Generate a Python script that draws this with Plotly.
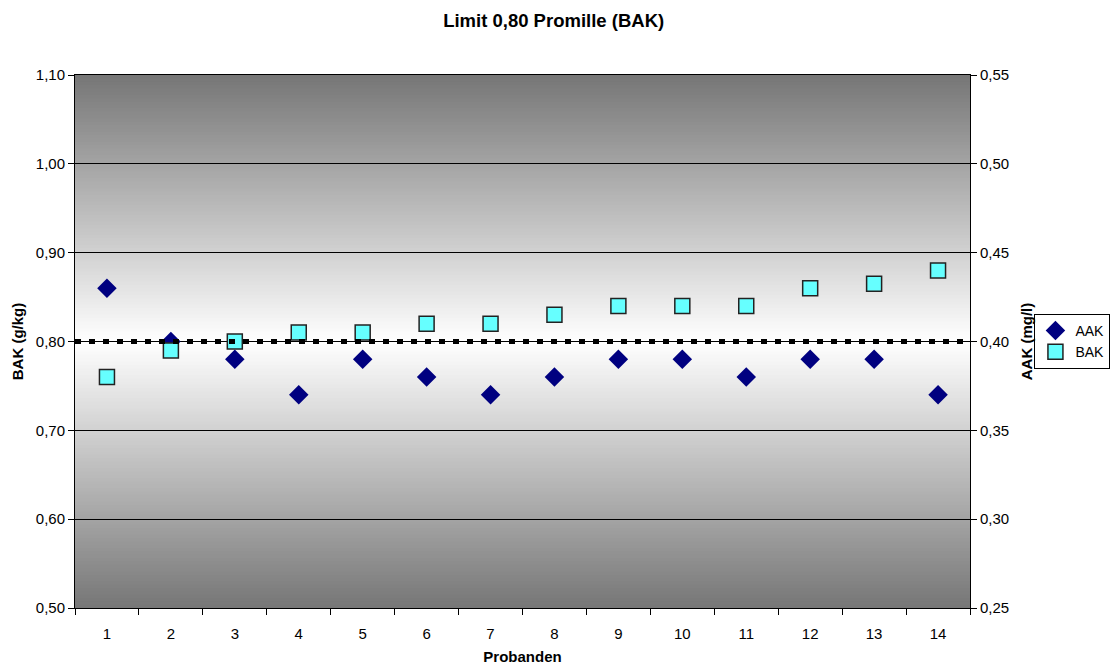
import plotly.graph_objects as go

# Probanden 1..14
probanden = list(range(1, 15))
# Atemalkohol (mg/l), right axis
aak = [0.43, 0.40, 0.39, 0.37, 0.39, 0.38, 0.37, 0.38, 0.39, 0.39, 0.38, 0.39, 0.39, 0.37]
# Blutalkohol (g/kg), left axis
bak = [0.76, 0.79, 0.80, 0.81, 0.81, 0.82, 0.82, 0.83, 0.84, 0.84, 0.84, 0.86, 0.865, 0.88]
# Grenzwert
limit = 0.80
limit_x = [0.5, 14.5]

FONT = "Liberation Sans, Arial, sans-serif"

fig = go.Figure()

fig.add_trace(go.Scatter(
    x=probanden, y=aak, name="AAK", mode="markers", yaxis="y",
    marker=dict(symbol="diamond", size=15, color="#000080",
                line=dict(width=0)),
))
fig.add_trace(go.Scatter(
    x=probanden, y=bak, name="BAK", mode="markers", yaxis="y2",
    marker=dict(symbol="square", size=15, color="#66FFFF",
                line=dict(width=1.5, color="#222222")),
))
fig.add_trace(go.Scatter(
    x=limit_x, y=[limit, limit], mode="lines", yaxis="y2",
    showlegend=False, hoverinfo="skip",
    line=dict(color="black", width=5, dash="6px,8px"),
))

# grey-white-grey vertical gradient behind the plot area
n_bands = 160
shapes = []
for i in range(n_bands):
    t = (i + 0.5) / n_bands
    d = abs(t - 0.5) * 2  # 0 at centre, 1 at edges
    v = int(round(255 - (255 - 118) * d))
    shapes.append(dict(
        type="rect", xref="x domain", yref="y domain",
        x0=0, x1=1, y0=i / n_bands, y1=(i + 1) / n_bands + 0.002,
        fillcolor=f"rgb({v},{v},{v})", line=dict(width=0), layer="below",
    ))

fig.update_layout(
    width=1114, height=668,
    margin=dict(l=75, r=144, t=75, b=60, autoexpand=False),
    paper_bgcolor="white", plot_bgcolor="white",
    separators=",.",
    font=dict(family=FONT, size=15, color="black"),
    title=dict(text="<b>Limit 0,80 Promille (BAK)</b>", x=0.497, xanchor="center",
               y=0.97, yanchor="middle", font=dict(size=18.5, family=FONT)),
    shapes=shapes,
    xaxis=dict(
        range=[0.5, 14.5], tickvals=probanden, ticktext=[str(p) for p in probanden],
        ticks="outside", ticklen=12, tickcolor="rgba(0,0,0,0)",
        showgrid=False, zeroline=False,
        showline=True, linecolor="black", linewidth=1, mirror=True,
        minor=dict(tickvals=[p - 0.5 for p in probanden] + [14.5],
                   ticks="outside", ticklen=6, tickcolor="black", showgrid=False),
        title=dict(text="<b>Probanden</b>", font=dict(size=15), standoff=10),
        tickfont=dict(size=15),
    ),
    yaxis=dict(
        side="right", range=[0.25, 0.55], dtick=0.05, tick0=0.25, tickformat=".2f",
        showgrid=True, gridcolor="black", gridwidth=1, zeroline=False,
        showline=True, linecolor="black", linewidth=1,
        ticks="outside", ticklen=6, tickcolor="black",
        title=dict(text="<b>AAK (mg/l)</b>", font=dict(size=15), standoff=13),
        tickfont=dict(size=15),
    ),
    yaxis2=dict(
        side="left", overlaying="y", range=[0.50, 1.10], dtick=0.1, tick0=0.5,
        tickformat=".2f", showgrid=False, zeroline=False,
        showline=True, linecolor="black", linewidth=1,
        ticks="outside", ticklen=6, tickcolor="black",
        title=dict(text="<b>BAK (g/kg)</b>", font=dict(size=15), standoff=8),
        tickfont=dict(size=15),
    ),
    legend=dict(
        x=1.072, xanchor="left", y=0.5, yanchor="middle",
        bordercolor="black", borderwidth=1, bgcolor="white",
        font=dict(size=14), itemwidth=30, tracegroupgap=0,
    ),
)

fig.write_html("out.html")
